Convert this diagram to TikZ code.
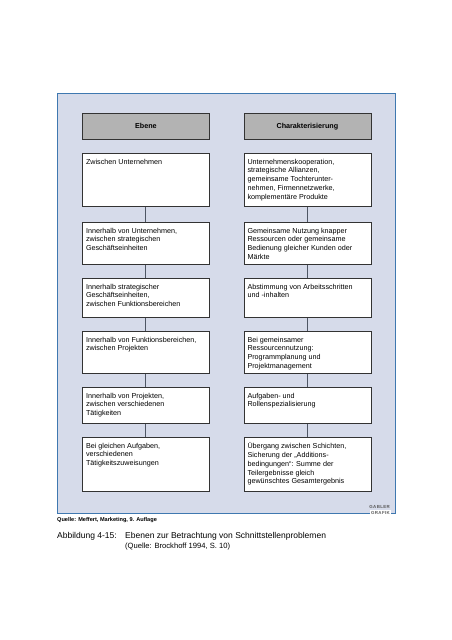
\documentclass[tikz,border=0pt]{standalone}
\usepackage{fontspec}
\setmainfont{Liberation Sans}
\definecolor{framebl}{HTML}{3F78B0}
\definecolor{framefill}{HTML}{D6DBEA}
\definecolor{headgray}{HTML}{B3B3B3}
\definecolor{linegray}{HTML}{4E5664}
\definecolor{boxline}{HTML}{333333}
\newcommand{\lsp}{\kern0.35pt}
\begin{document}
\begin{tikzpicture}[x=1pt,y=-1pt,
  boxn/.style={draw=boxline,line width=0.8pt,fill=white,anchor=north west,inner sep=0pt,minimum width=127pt},
  headn/.style={draw=boxline,line width=0.8pt,fill=headgray,anchor=north west,inner sep=0pt,minimum width=127pt,minimum height=26pt,font=\fontsize{7.2}{8.7}\selectfont\bfseries},
  txt/.style={anchor=north west,align=left,inner xsep=3.8pt,inner ysep=5.6pt,font=\fontsize{7.2}{8.75}\selectfont},
  conn/.style={draw=linegray,line width=0.9pt},
  logo/.style={inner sep=0pt,text=black!65,font=\fontsize{4.4}{4.4}\selectfont\bfseries}]
\useasboundingbox (0,0) rectangle (452,640);
\node[draw=framebl,line width=1.4pt,fill=framefill,anchor=north west,inner sep=0pt,minimum width=338pt,minimum height=420pt] (frame) at (57,93) {};
% headers
\node[headn] (h1) at (82,113) {Ebene};
\node[headn] (h2) at (243.5,113) {Charakterisierung};
% left column
\node[boxn,minimum height=53pt] (l1) at (82,153) {};
\node[boxn,minimum height=42pt] (l2) at (82,222) {};
\node[boxn,minimum height=39pt] (l3) at (82,278) {};
\node[boxn,minimum height=42pt] (l4) at (82,331) {};
\node[boxn,minimum height=36pt] (l5) at (82,387) {};
\node[boxn,minimum height=54pt] (l6) at (82,437) {};
% right column
\node[boxn,minimum height=53pt] (r1) at (243.5,153) {};
\node[boxn,minimum height=42pt] (r2) at (243.5,222) {};
\node[boxn,minimum height=39pt] (r3) at (243.5,278) {};
\node[boxn,minimum height=42pt] (r4) at (243.5,331) {};
\node[boxn,minimum height=36pt] (r5) at (243.5,387) {};
\node[boxn,minimum height=54pt] (r6) at (243.5,437) {};
% connectors
\foreach \a/\b in {l1/l2,l2/l3,l3/l4,l4/l5,l5/l6,r1/r2,r2/r3,r3/r4,r4/r5,r5/r6}
  \draw[conn] (\a.south) -- (\b.north);
% texts
\node[txt] (tl1) at (l1.north west) {Zwischen Unternehmen};
\node[txt] (tl2) at (l2.north west) {Innerhalb von Unternehmen,\\zwischen strategischen\\Geschäftseinheiten};
\node[txt] (tl3) at (l3.north west) {Innerhalb strategischer\\Geschäftseinheiten,\\zwischen Funktionsbereichen};
\node[txt] (tl4) at (l4.north west) {Innerhalb von Funktionsbereichen,\\zwischen Projekten};
\node[txt] (tl5) at (l5.north west) {Innerhalb von Projekten,\\zwischen verschiedenen\\Tätigkeiten};
\node[txt] (tl6) at (l6.north west) {Bei gleichen Aufgaben,\\verschiedenen\\Tätigkeitszuweisungen};
\node[txt] (tr1) at (r1.north west) {Unternehmenskooperation,\\strategische Allianzen,\\gemeinsame Tochterunter-\\nehmen, Firmennetzwerke,\\komplementäre Produkte};
\node[txt] (tr2) at (r2.north west) {Gemeinsame Nutzung knapper\\Ressourcen oder gemeinsame\\Bedienung gleicher Kunden oder\\Märkte};
\node[txt] (tr3) at (r3.north west) {Abstimmung von Arbeitsschritten\\und -inhalten};
\node[txt] (tr4) at (r4.north west) {Bei gemeinsamer\\Ressourcennutzung:\\Programmplanung und\\Projektmanagement};
\node[txt] (tr5) at (r5.north west) {Aufgaben- und\\Rollenspezialisierung};
\node[txt] (tr6) at (r6.north west) {Übergang zwischen Schichten,\\Sicherung der „Additions-\\bedingungen“: Summe der\\Teilergebnisse gleich\\gewünschtes Gesamtergebnis};
% logo
\node[logo,anchor=base east] (gab) at (390,508.7) {G\lsp A\lsp B\lsp L\lsp E\lsp R};
\node[logo,anchor=base east,inner xsep=1pt,inner ysep=0.6pt,fill=white] (gra) at (391,514) {G\lsp R\lsp A\lsp F\lsp I\lsp K};
% source and caption
\node[anchor=base west,inner sep=0pt,font=\fontsize{5.6}{6}\selectfont\bfseries] (src) at (57,521) {Quelle: Meffert, Marketing, 9. Auflage};
\node[anchor=base west,inner sep=0pt,font=\fontsize{8.5}{10}\selectfont] (cap1) at (57,538) {Abbildung 4-15:};
\node[anchor=base west,inner sep=0pt,font=\fontsize{8.5}{10}\selectfont] (cap2) at (125,538) {Ebenen zur Betrachtung von Schnittstellenproblemen};
\node[anchor=base west,inner sep=0pt,font=\fontsize{7.6}{9}\selectfont] (cap3) at (125,548) {(Quelle: Brockhoff 1994, S. 10)};
\end{tikzpicture}
\end{document}
